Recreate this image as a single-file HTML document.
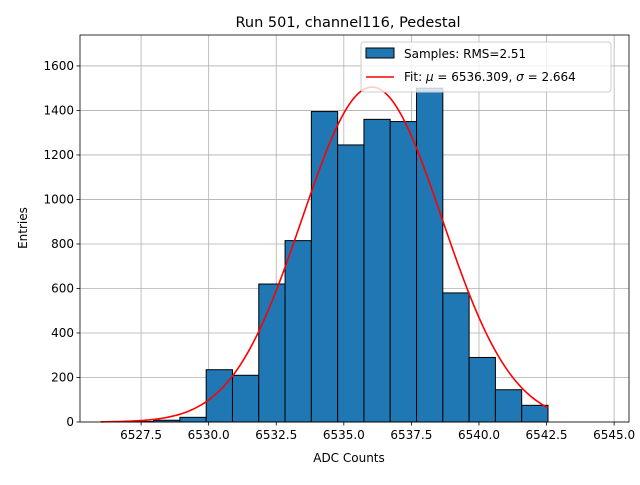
<!DOCTYPE html>
<html><head><meta charset="utf-8"><style>
body{margin:0;background:#fff;}
svg text{font-family:"DejaVu Sans","Liberation Sans",sans-serif;}
</style></head><body>
<svg id="chart" width="640" height="480" viewBox="0 0 640 480" xmlns="http://www.w3.org/2000/svg">
<rect width="640" height="480" fill="#fff"/>
<g id="grid"></g><g id="bars"></g><g id="curve"></g><g id="axes"></g>
<text x="348" y="27" font-size="14.5" text-anchor="middle">Run 501, channel116, Pedestal</text>
<text x="349" y="462" font-size="12" text-anchor="middle">ADC Counts</text>
<text x="27" y="228" font-size="12" text-anchor="middle" transform="rotate(-90 27 228)">Entries</text>
<g>
<rect x="361" y="42" width="250" height="50" rx="3" fill="#fff" fill-opacity="0.8" stroke="#ccc"/>
<rect x="366" y="48" width="28" height="10" fill="#1f77b4" stroke="#000"/>
<text x="404" y="58" font-size="12">Samples: RMS=2.51</text>
<line x1="366" y1="77" x2="394" y2="77" stroke="red" stroke-width="1.5"/>
<text x="404" y="81" font-size="12">Fit: <tspan font-style="italic">μ</tspan> = 6536.309, <tspan font-style="italic">σ</tspan> = 2.664</text>
</g>
</svg>
<script>
const binStarts=[6526,6527,6528,6529,6530,6531,6532,6533,6534,6535,6536,6537,6538,6539,6540,6541,6542];
const counts=[1,2,8,21,235,210,620,815,1395,1245,1360,1350,1500,580,290,145,75];
const xTicks=[6527.5,6530.0,6532.5,6535.0,6537.5,6540.0,6542.5,6545.0];
const yTicks=[0,200,400,600,800,1000,1200,1400,1600];
const fitMu=6536.309, fitSigma=2.664, fitAmp=1505;
const dataMin=6526, dataMax=6543;
const L=80,R=629,T=35,B=422,xmin=6525.24,xmax=6545.55,ymax=1739;
const sx=v=>L+(v-xmin)/(xmax-xmin)*(R-L);
const sxd=v=>101+(v-dataMin)/(dataMax-dataMin)*447;
const sy=v=>B-v/ymax*(B-T);
const NS="http://www.w3.org/2000/svg";
function mk(p,tag,a){const e=document.createElementNS(NS,tag);for(const k in a)e.setAttribute(k,a[k]);p.appendChild(e);return e;}
const grid=document.getElementById('grid'),axes=document.getElementById('axes');
xTicks.forEach(t=>{const x=sx(t);
 const g=mk(grid,'line',{x1:x,x2:x,y1:T,y2:B,stroke:'#b0b0b0','stroke-width':0.8});
 
 
 mk(axes,'line',{x1:x,x2:x,y1:B,y2:B+3.5,stroke:'#000','stroke-width':0.8});
 const tx=mk(axes,'text',{x:x,y:B+17,'font-size':12,'text-anchor':'middle'});tx.textContent=t.toFixed(1);
 
 
});
yTicks.forEach(t=>{const y=sy(t);
 const g=mk(grid,'line',{x1:L,x2:R,y1:y,y2:y,stroke:'#b0b0b0','stroke-width':0.8});
 
 
 mk(axes,'line',{x1:L-3.5,x2:L,y1:y,y2:y,stroke:'#000','stroke-width':0.8});
 const tx=mk(axes,'text',{x:L-6,y:y+4,'font-size':12,'text-anchor':'end'});tx.textContent=t;
 
 
});
const bars=document.getElementById('bars');
binStarts.forEach((b,i)=>{const x0=sxd(b),x1=sxd(b+1),y=sy(counts[i]);
 const r=mk(bars,'rect',{x:x0,y:y,width:x1-x0,height:B-y,fill:'#1f77b4',stroke:'#000','stroke-width':1});
 
 
});
let d='';for(let i=0;i<=200;i++){const v=dataMin+(dataMax-dataMin)*i/200;const c=fitAmp*Math.exp(-0.5*((v-fitMu)/fitSigma)**2);d+=(i?'L':'M')+sxd(v).toFixed(2)+','+sy(c).toFixed(2);}
const p=mk(document.getElementById('curve'),'path',{d:d,fill:'none',stroke:'red','stroke-width':1.6});


const f=mk(axes,'rect',{x:L,y:T,width:R-L,height:B-T,fill:'none',stroke:'#000','stroke-width':0.8});


</script>
</body></html>
